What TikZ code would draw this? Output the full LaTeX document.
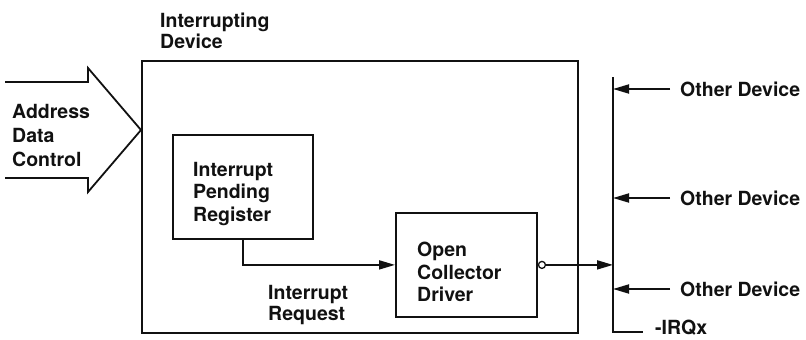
\documentclass[tikz,border=0pt]{standalone}
\usepackage{fontspec}
\setmainfont{TeX Gyre Heros}
\usepackage{xcolor}
\definecolor{irq-ink}{HTML}{111111}
\usepackage{tikz}
\usetikzlibrary{arrows.meta,positioning}

\tikzset{
    irq-line/.style={irq-ink, line width=1.8pt},
    irq-box/.style={irq-line, draw, inner sep=0, anchor=north west},
    irq-text/.style={irq-ink, inner sep=0, anchor=north west, align=left,
        font=\fontsize{19.5}{22.5}\selectfont\bfseries},
    irq-arrow/.style={irq-line, -{Triangle[length=16pt,width=9pt]}},
}

\begin{document}
\begin{tikzpicture}[x=1pt, y=-1pt]

    \useasboundingbox (0, 0) rectangle (806, 340);

    % Device
    \node[irq-box, minimum width=436pt, minimum height=272pt] (device) at (141, 60) {};
    \node[irq-text, font=\fontsize{19.5}{20.5}\selectfont\bfseries] (device-name) at (160, 13) {Interrupting\\Device};

    % Bus input
    \draw[irq-line, line join=miter] (5, 82) -- (88, 82) -- (88, 68) -- (141, 130)
        -- (88, 192) -- (88, 178) -- (5, 178);
    \node[irq-text, font=\fontsize{19.5}{24}\selectfont\bfseries] (bus-name) at (12, 104) {Address\\Data\\Control};

    % Register and driver
    \node[irq-box, minimum width=140pt, minimum height=104pt] (register) at (172, 134) {};
    \node[irq-text] (register-name) at (193, 162) {Interrupt\\Pending\\Register};
    \node[irq-box, minimum width=141pt, minimum height=104pt] (driver) at (395, 212) {};
    \node[irq-text] (driver-name) at (417, 242) {Open\\Collector\\Driver};
    \node[irq-line, draw, circle, inner sep=0, minimum size=7pt, line width=1.3pt, right=0pt of driver] (bubble) {};
    \node[irq-text, font=\fontsize{19.5}{21.5}\selectfont\bfseries] (request-name) at (268, 285) {Interrupt\\Request};

    \draw[irq-arrow] (register.south) |- (driver.west);

    % IRQ line
    \coordinate (bus-top) at (613, 77);
    \coordinate (bus-bottom) at (613, 332);
    \coordinate (bus-end) at (643, 332);
    \draw[irq-line] (bus-top) -- (bus-bottom) -- (bus-end);
    \node[irq-text] (irq-name) at (655, 320) {-IRQx};

    \draw[irq-arrow] (bubble.east) -- (bubble.east -| bus-top);

    % Other devices
    \foreach \name/\y in {dev-a/89, dev-b/198, dev-c/289} {
        \node[irq-text, anchor=west, inner xsep=10pt] (\name) at (670, \y) {Other Device};
        \draw[irq-arrow] (\name.west) -- (\name.west -| bus-top);
    }

\end{tikzpicture}
\end{document}
